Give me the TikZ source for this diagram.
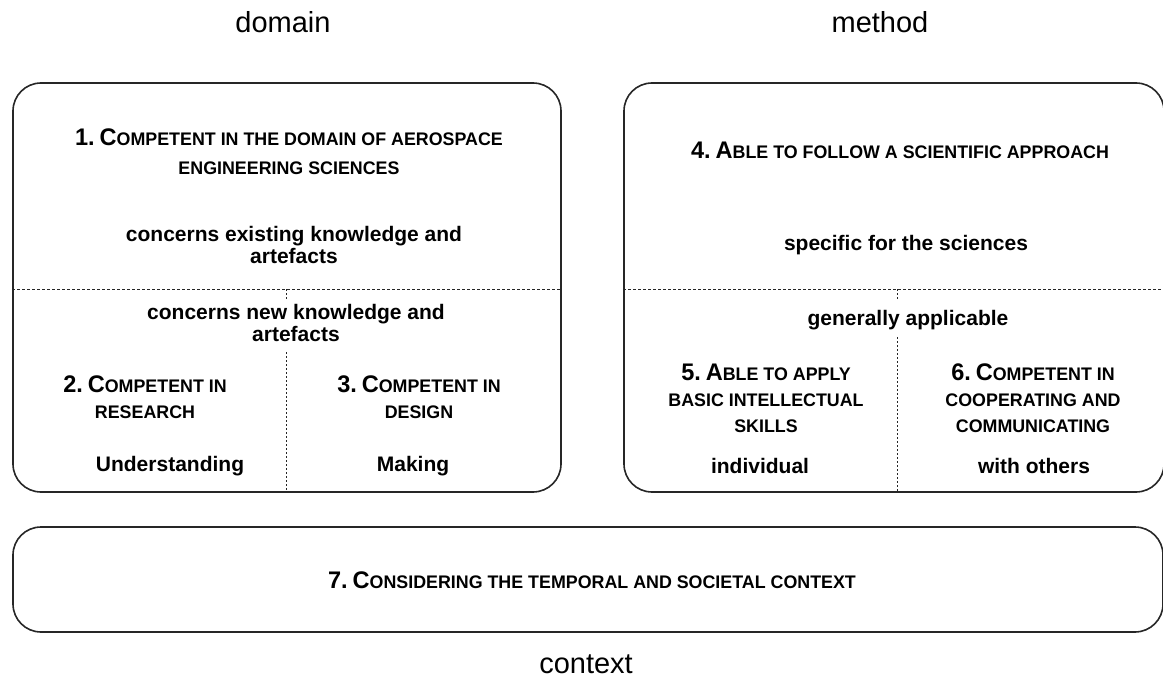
\documentclass[tikz,border=0pt]{standalone}
\usepackage{fontspec}
\setmainfont{Liberation Sans}
\newfontfamily\headfont[FakeStretch=0.98]{Liberation Sans Bold}
\newcommand\hbig{\headfont\fontsize{24}{27}\selectfont}
\newcommand\hsmall{\headfont\fontsize{18.2}{27}\selectfont}
\newcommand\hnum[2]{{\hbig #1.}{\hsmall\ }{\hbig #2}}
\begin{document}
\begin{tikzpicture}[x=1pt,y=-1pt,
  box/.style={draw=black!85, line width=1.6pt, rounded corners=28pt, inner sep=0pt},
  title/.style={font=\fontsize{29}{32}\selectfont, inner sep=0pt},
  body/.style={font=\bfseries\fontsize{21}{21.5}\selectfont, align=center, inner sep=0pt},
  head/.style={font=\hsmall, align=center, inner sep=0pt},
  divider/.style={draw=black!85, line width=1pt, dash pattern=on 3pt off 2pt},
  vdivider/.style={draw=black!85, line width=1pt, dash pattern=on 2pt off 2pt}]
\useasboundingbox (0,0) rectangle (1163,698);
% titles
\node[title] (tdom) at (283,22) {domain};
\node[title] (tmet) at (880,22) {method};
\node[title] (tctx) at (586,664) {context};
% boxes
\node[box, minimum width=548pt, minimum height=409pt] (L) at (287,287.5) {};
\node[box, minimum width=540pt, minimum height=409pt] (R) at (894,287.5) {};
\node[box, minimum width=1150pt, minimum height=105pt] (C) at (588,579.5) {};
% left box dividers
\coordinate (Lh) at (13,289);
\draw[divider] (L.west |- Lh) -- (L.east |- Lh);
\coordinate (Lv1) at (286,289);
\coordinate (Lv2) at (286,300);
\coordinate (Lv3) at (286,352);
\draw[vdivider] (Lv1) -- (Lv2);
\draw[vdivider] (Lv3) -- (Lv3 |- L.south);
% right box dividers
\coordinate (Rh) at (624,289);
\draw[divider] (R.west |- Rh) -- (R.east |- Rh);
\coordinate (Rv1) at (897,289);
\coordinate (Rv2) at (897,300);
\coordinate (Rv3) at (897,337);
\draw[vdivider] (Rv1) -- (Rv2);
\draw[vdivider] (Rv3) -- (Rv3 |- R.south);
% left box texts
\node[head] (h1) at (289,152) {\hnum{1}{C}OMPETENT IN THE DOMAIN OF AEROSPACE\\[2pt]ENGINEERING SCIENCES};
\node[body] (b1) at (294,245) {concerns existing knowledge and\\artefacts};
\node[body] (b2) at (296,323) {concerns new knowledge and\\artefacts};
\node[head] (h2) at (145,397) {\hnum{2}{C}OMPETENT IN\\[-1pt]RESEARCH};
\node[head] (h3) at (419,397) {\hnum{3}{C}OMPETENT IN\\[-1pt]DESIGN};
\node[body] (b3) at (170,466) {Understanding};
\node[body] (b4) at (413,466) {Making};
% right box texts
\node[head] (h4) at (900,150) {\hnum{4}{A}BLE TO FOLLOW A SCIENTIFIC APPROACH};
\node[body] (b5) at (906,245) {specific for the sciences};
\node[body] (b6) at (908,320) {generally applicable};
\node[head] (h5) at (766,398) {\hnum{5}{A}BLE TO APPLY\\[-1pt]BASIC INTELLECTUAL\\[-1pt]SKILLS};
\node[head] (h6) at (1033,398) {\hnum{6}{C}OMPETENT IN\\[-1pt]COOPERATING AND\\[-1pt]COMMUNICATING};
\node[body] (b7) at (760,466) {individual};
\node[body] (b8) at (1034,466) {with others};
% context box text
\node[head] (h7) at (592,580) {\hnum{7}{C}ONSIDERING THE TEMPORAL AND SOCIETAL CONTEXT};
\end{tikzpicture}
\end{document}
